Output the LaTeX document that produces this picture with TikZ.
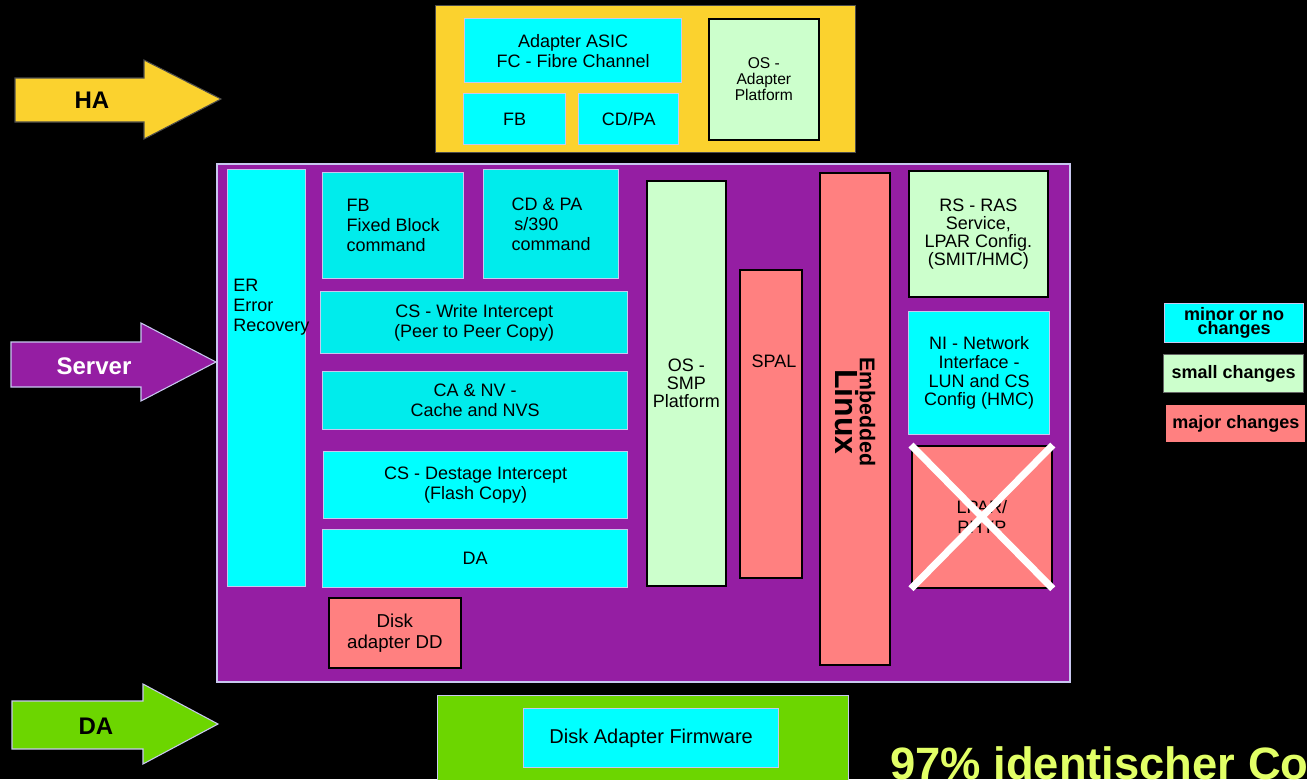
\documentclass[tikz,border=0pt]{standalone}
\usepackage{fontspec}
\setmainfont{Liberation Sans}
\usepackage{xcolor}
\usepackage{tikz}
\usetikzlibrary{positioning}
\definecolor{hayellow}{RGB}{251,210,46}
\definecolor{srvpurple}{RGB}{149,30,163}
\definecolor{dagreen}{RGB}{108,214,0}
\definecolor{minorcyan}{RGB}{0,255,255}
\definecolor{minorcyandk}{RGB}{0,236,236}
\definecolor{smallgreen}{RGB}{204,255,204}
\definecolor{majorred}{RGB}{255,128,128}
\definecolor{framelav}{RGB}{200,200,240}
\definecolor{codeyellow}{RGB}{226,255,102}

\begin{document}
\begin{tikzpicture}[x=0.75pt, y=-0.75pt,
    every node/.style={font=\fontsize{13.5}{15}\selectfont, inner sep=0pt, align=center},
    sized/.style 2 args={anchor=north west, minimum width=#1*0.75pt, minimum height=#2*0.75pt},
    chgminor/.style={fill=minorcyan, draw=framelav, line width=1pt},
    chgminordk/.style={fill=minorcyandk, draw=framelav, line width=1pt},
    chgsmall/.style={fill=smallgreen, draw=black, line width=1.3pt},
    chgmajor/.style={fill=majorred, draw=black, line width=1.3pt},
    tightfont/.style={font=\fontsize{13.5}{13.5}\selectfont},
    legendfont/.style={font=\bfseries\fontsize{13.5}{10.5}\selectfont},
    arrowfont/.style={font=\bfseries\fontsize{18}{20}\selectfont}
]
\useasboundingbox (0,0) rectangle (1307,779);
\clip (0,0) rectangle (1307,779);
\fill[black] (0,0) rectangle (1307,779);

% arrows on the left
\draw[fill=hayellow, draw=black!70, line width=0.8pt]
  (15,78) -- (144,78) -- (144,60) -- (221,99) -- (144,139) -- (144,122) -- (15,122) -- cycle;
\node[arrowfont] (halbl) at (92,100) {HA};
\draw[fill=srvpurple, draw=framelav, line width=0.8pt]
  (11,342) -- (141,342) -- (141,323) -- (216,362) -- (141,401) -- (141,387) -- (11,387) -- cycle;
\node[arrowfont, text=white] (srvlbl) at (94,366) {Server};
\draw[fill=dagreen, draw=framelav, line width=0.8pt]
  (12,701) -- (143,701) -- (143,684) -- (218,724) -- (143,764) -- (143,749) -- (12,749) -- cycle;
\node[arrowfont] (dalbl) at (96,726) {DA};

% host adapter
\node[sized={420}{147}, fill=hayellow, draw=black!70, line width=1pt] (ha) at (435,5) {};
\node[sized={217}{64}, chgminor] (asic) at (464,18) {Adapter ASIC\\FC - Fibre Channel};
\node[sized={102}{51}, chgminor] (hafb) at (463,93) {FB};
\node[sized={100}{51}, chgminor] (hacdpa) at (578,93) {CD/PA};
\node[sized={110}{121}, chgsmall, font=\fontsize{11.7}{12}\selectfont] (haos) at (708,18) {OS -\\Adapter\\Platform};

% server
\node[sized={853}{518}, fill=srvpurple, draw=framelav, line width=1.2pt] (srv) at (216,163) {};
\node[sized={78}{417}, chgminor] (er) at (227,169) {};
\node[anchor=north west, align=left] (ertxt) at (233,279) {ER\\Error\\Recovery};
\node[sized={141}{106}, chgminordk, align=left] (fbcmd) at (322,172) {FB\\Fixed Block\\command};
\node[sized={135}{109}, chgminordk, align=left] (cdcmd) at (483,169) {CD \& PA\\\hspace*{2pt}s/390\\command};
\node[sized={307}{62}, chgminordk] (cswrite) at (320,291) {CS - Write Intercept\\(Peer to Peer Copy)};
\node[sized={305}{58}, chgminordk] (canv) at (322,371) {CA \& NV -\\Cache and NVS};
\node[sized={304}{67}, chgminor] (csdest) at (323,451) {CS - Destage Intercept\\(Flash Copy)};
\node[sized={305}{58}, chgminor] (da) at (322,529) {DA};
\node[sized={132}{70}, chgmajor, font=\fontsize{14}{15.5}\selectfont] (dd) at (328,597) {Disk\\ adapter DD};
\node[sized={79}{405}, chgsmall, tightfont] (ossmp) at (646,180) {OS -\\SMP\\Platform};
\node[sized={62}{308}, chgmajor] (spal) at (739,269) {};
\node (spaltxt) at (774,361) {SPAL};
\node[sized={70}{492}, chgmajor] (linux) at (819,172) {};
\node[rotate=-90] (linuxtxt) at (855,412)
  {{\bfseries\fontsize{16}{18}\selectfont Embedded}\\{\bfseries\fontsize{24}{26}\selectfont Linux}};
\node[sized={139}{126}, chgsmall, tightfont] (rsras) at (908,170) {RS - RAS\\Service,\\LPAR Config.\\(SMIT/HMC)};
\node[sized={141}{123}, chgminor, font=\fontsize{13.5}{14}\selectfont] (ni) at (908,311) {NI - Network\\Interface -\\LUN and CS\\Config (HMC)};
\node[sized={140}{142}, chgmajor] (lpar) at (911,445) {LPAR/\\PHYP};
\draw[white, line width=5.3pt] (lpar.north west) -- (lpar.south east);
\draw[white, line width=5.3pt] (lpar.north east) -- (lpar.south west);

% device adapter
\node[sized={411}{100}, fill=dagreen, draw=framelav, line width=1pt] (dafr) at (437,695) {};
\node[sized={255}{59}, chgminor, font=\fontsize{15}{17}\selectfont] (dafw) at (523,708) {Disk Adapter Firmware};

% legend
\node[sized={139}{39}, chgminor, legendfont] (lgminor) at (1164,303) {minor or no\\changes};
\node[sized={140}{38}, chgsmall, draw=black!60, line width=0.8pt, legendfont] (lgsmall) at (1163,354) {small changes};
\node[sized={139}{37}, fill=majorred, legendfont, yshift=-3pt] (lgmajor) at (1166,401) {major changes};

\node[anchor=base west, text=codeyellow, font=\bfseries\fontsize{34}{36}\selectfont] (ident) at (890,779) {97\% identischer Co};
\end{tikzpicture}
\end{document}
